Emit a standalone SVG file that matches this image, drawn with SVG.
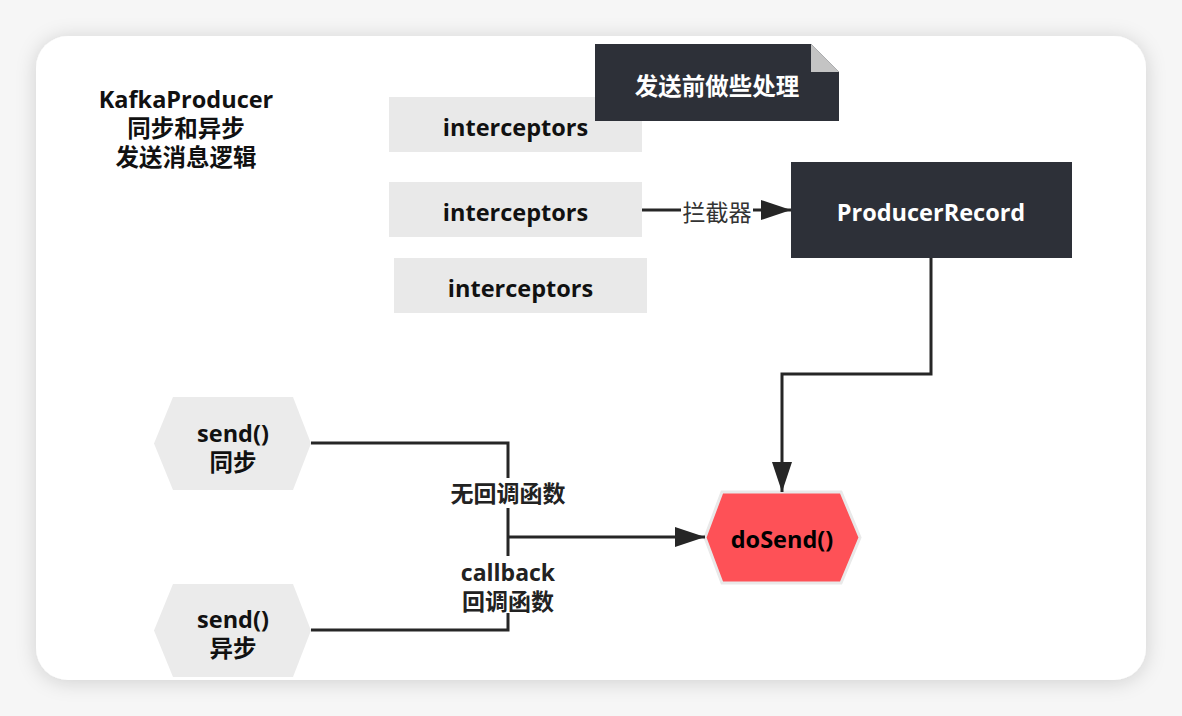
<svg xmlns="http://www.w3.org/2000/svg" width="1182" height="716" viewBox="0 0 1182 716">
  <defs>
    <filter id="shadow" x="-5%" y="-8%" width="110%" height="116%">
      <feDropShadow dx="0" dy="2" stdDeviation="10" flood-color="#000" flood-opacity="0.16"/>
    </filter>
    <marker id="arrow" viewBox="0 0 30 20" refX="30" refY="10" markerWidth="30" markerHeight="20" markerUnits="userSpaceOnUse" orient="auto">
      <path d="M0,0 L30,10 L0,20 Z" fill="#262626"/>
    </marker>
  </defs>
  <style>
    text { font-family: "Open Sans", "Noto Sans CJK SC", sans-serif; text-anchor: middle; }
    .b { font-weight: bold; font-size: 23.5px; fill: #111; }
    .w { fill: #ffffff; }
    .lbl { font-size: 23px; font-weight: bold; fill: #222; }
    .box { fill: #e9e9e9; }
    .dark { fill: #2d3038; }
    .line { fill: none; stroke: #262626; stroke-width: 3; }
    .gap { fill: #ffffff; }
  </style>
  <rect width="1182" height="716" fill="#f6f6f6"/>
  <rect x="36" y="36" width="1110" height="644" rx="32" fill="#ffffff" filter="url(#shadow)"/>

  <g id="title">
    <text class="b" x="186" y="108">KafkaProducer</text>
    <text class="b" x="186" y="137">同步和异步</text>
    <text class="b" x="186" y="166">发送消息逻辑</text>
  </g>

  <g id="interceptors1">
    <rect class="box" x="389" y="97" width="253" height="55"/>
    <text class="b" x="515.5" y="136">interceptors</text>
  </g>
  <g id="interceptors2">
    <rect class="box" x="389" y="182" width="253" height="55"/>
    <text class="b" x="515.5" y="221">interceptors</text>
  </g>
  <g id="interceptors3">
    <rect class="box" x="394" y="258" width="253" height="55"/>
    <text class="b" x="520.5" y="297">interceptors</text>
  </g>

  <g id="note">
    <path class="dark" d="M595,44 L811,44 L839,72 L839,121 L595,121 Z"/>
    <path d="M811,44 L839,72 L811,72 Z" fill="#c4c4c4"/>
    <text class="b w" x="717" y="95">发送前做些处理</text>
  </g>

  <g id="producerRecord">
    <rect class="dark" x="791" y="162" width="281" height="96"/>
    <text class="b w" x="931" y="221">ProducerRecord</text>
  </g>

  <g id="sendSync">
    <path d="M173,397 L293,397 L311,443.5 L293,490 L173,490 L154,443.5 Z" fill="#ebebeb"/>
    <text class="b" x="233" y="442">send()</text>
    <text class="b" x="233" y="471">同步</text>
  </g>

  <g id="sendAsync">
    <path d="M173,584 L293,584 L311,630.5 L293,677 L173,677 L154,630.5 Z" fill="#ebebeb"/>
    <text class="b" x="233" y="628">send()</text>
    <text class="b" x="233" y="657">异步</text>
  </g>

  <g id="doSend">
    <path d="M722,492 L841,492 L860,537.5 L841,583 L722,583 L705,537.5 Z" fill="#fe5157" stroke="#e9e9e9" stroke-width="3"/>
    <text class="b" x="782" y="548" style="fill:#000">doSend()</text>
  </g>

  <g id="connectors">
    <path class="line" d="M642,210 L791,210" marker-end="url(#arrow)"/>
    <rect class="gap" x="681" y="198" width="72" height="26"/>
    <text x="717" y="221" style="font-size:23px;fill:#333">拦截器</text>

    <path class="line" d="M931,258 L931,374 L782,374 L782,492" marker-end="url(#arrow)"/>

    <path class="line" d="M311,443 L508,443 L508,537 M311,630 L508,630 L508,537"/>
    <path class="line" d="M508,537 L705,537" marker-end="url(#arrow)"/>

    <rect class="gap" x="447" y="478" width="122" height="30"/>
    <text class="lbl" x="508" y="502">无回调函数</text>

    <rect class="gap" x="456" y="556" width="104" height="57"/>
    <text class="lbl" x="508" y="581">callback</text>
    <text class="lbl" x="508" y="610">回调函数</text>
  </g>
</svg>
